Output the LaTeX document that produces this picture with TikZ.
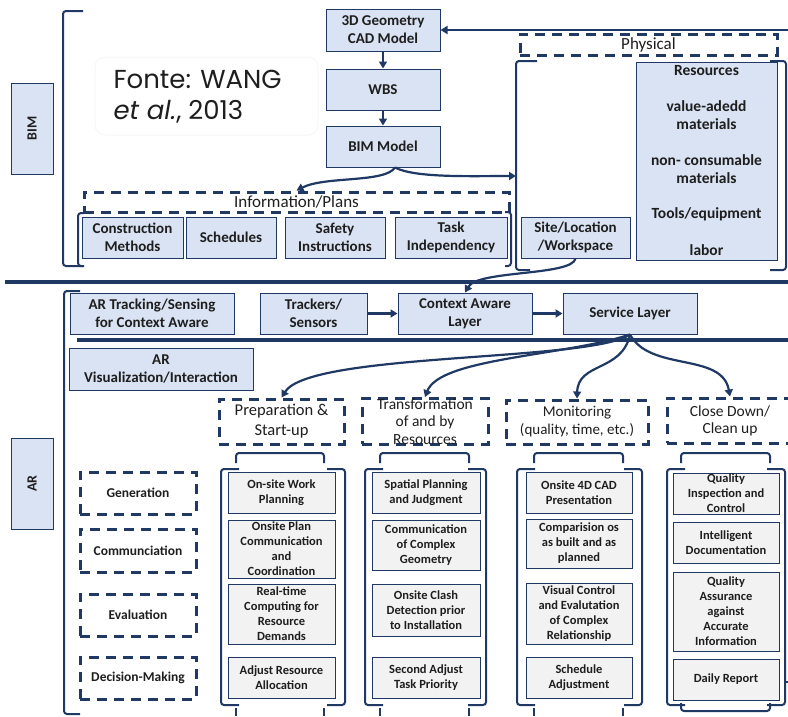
\documentclass[tikz,border=0pt]{standalone}
\usepackage{fontspec}
\setmainfont{Carlito}
\newfontfamily\fontefont{Poppins}
\usetikzlibrary{arrows.meta,calc}
\definecolor{navy}{RGB}{31,56,100}
\definecolor{bluefill}{RGB}{218,227,243}
\definecolor{grayfill}{RGB}{242,242,242}
\definecolor{txt}{RGB}{30,30,30}
\tikzset{
 bluebox/.style={draw=navy, fill=bluefill, line width=1pt, inner sep=0pt, align=center, font=\fontsize{15}{18}\selectfont\bfseries, text=txt},
 graybox/.style={draw=navy, fill=grayfill, line width=1pt, inner sep=0pt, align=center, font=\fontsize{12.5}{15}\selectfont\bfseries, text=txt},
 dbox/.style={draw=navy, line width=3pt, dash pattern=on 10pt off 7pt, inner sep=0pt, align=center, font=\fontsize{16}{20}\selectfont, text=txt},
 catbox/.style={dbox, font=\fontsize{13.5}{15}\selectfont\bfseries},
 bracket/.style={draw=navy, line width=2pt, rounded corners=3pt},
 sep/.style={draw=navy, line width=3.5pt},
 arr/.style={draw=navy, line width=2.2pt, -{Triangle[length=7pt,width=8pt]}},
}
\begin{document}
\begin{tikzpicture}[x=1pt, y=-1pt]
\useasboundingbox (0,0) rectangle (788,716);

% ---------------- BIM part ----------------
\node[bluebox, minimum width=42, minimum height=91] (bim) at (32,128.5) {};
\node[rotate=90, font=\fontsize{14}{15}\selectfont\bfseries, text=txt] (bimtxt) at (bim) {BIM};
\draw[bracket] (83,11) -- (63,11) -- (63,266) -- (83,266);

\node[draw=gray!7, line width=1pt, rounded corners=10pt, minimum width=223, minimum height=78] (fontebox) at (206.5,96) {};
\node[anchor=west, align=left, font=\fontefont\fontsize{26}{31}\selectfont, text=txt] (fonte) at (110,97) {Fonte: WANG\\\textit{et al.}, 2013};

\node[bluebox, minimum width=114, minimum height=42] (cad) at (383,30) {3D Geometry\\CAD Model};
\node[bluebox, minimum width=114, minimum height=41] (wbs) at (383,89.5) {WBS};
\node[bluebox, minimum width=114, minimum height=41] (bimm) at (383,146.5) {BIM Model};

\node[dbox, minimum width=425, minimum height=20, font=\fontsize{17}{20}\selectfont] (info) at (296.5,202) {Information/Plans};
\node[dbox, minimum width=257, minimum height=21, font=\fontsize{17}{20}\selectfont] (phys) at (648.5,44.5) {Physical};

\node[bluebox, minimum width=101, minimum height=41] (cm) at (132.5,237.5) {Construction\\Methods};
\node[bluebox, minimum width=90, minimum height=41] (sch) at (231,237.5) {Schedules};
\node[bluebox, minimum width=100, minimum height=41] (safe) at (335,237.5) {Safety\\Instructions};
\node[bluebox, minimum width=112, minimum height=41] (task) at (451,237.5) {Task\\Independency};
\node[bluebox, minimum width=109, minimum height=41] (site) at (575.5,237.5) {Site/Location\\/Workspace};
\node[bluebox, minimum width=141, minimum height=198, font=\fontsize{15.5}{18}\selectfont\bfseries] (res) at (706.5,161)
  {Resources\\[18pt]value-adedd\\materials\\[18pt]non- consumable\\materials\\[17pt]Tools/equipment\\[19pt]labor};

% brackets of BIM part
\draw[bracket] (84,213) -- (78,213) -- (78,266) -- (84,266);
\draw[bracket] (505,212) -- (511,212) -- (511,266) -- (505,266);
\draw[bracket] (537,61) -- (516,61) -- (516,270) -- (530,270);
\draw[bracket] (770,61) -- (786,61) -- (786,270) -- (770,270);

% arrows of BIM part
\coordinate (fbstart) at (788,30);
\coordinate (physin) at (516,176);
\draw[arr] (fbstart) -- (cad.east);
\draw[arr] (cad.south) -- (wbs.north);
\draw[arr] (wbs.south) -- (bimm.north);
\draw[arr] ($(bimm.south)+(12,0)$) .. controls (385,183) and (325,176) .. (info.north);
\draw[arr] ($(bimm.south)+(12,0)$) .. controls (415,178) and (470,176) .. (physin);

% separator
\coordinate (s1a) at (5,282); \coordinate (s1b) at (788,282);
\draw[sep] (s1a) -- (s1b);

% ---------------- AR part ----------------
\node[bluebox, minimum width=42, minimum height=91] (ar) at (32,483.5) {};
\node[rotate=90, font=\fontsize{14}{15}\selectfont\bfseries, text=txt] (artxt) at (ar) {AR};
\draw[bracket] (80,291) -- (64,291) -- (64,714) -- (80,714);

\node[bluebox, minimum width=164, minimum height=41] (arts) at (152,313.5) {AR Tracking/Sensing\\for Context Aware};
\node[bluebox, minimum width=107, minimum height=41] (trk) at (313.5,313.5) {Trackers/\\Sensors};
\node[bluebox, minimum width=134, minimum height=41] (ctx) at (465,313.5) {Context Aware\\Layer};
\node[bluebox, minimum width=134, minimum height=41] (svc) at (630,313.5) {Service Layer};
\node[bluebox, minimum width=184, minimum height=42] (arvis) at (161,369) {AR\\Visualization/Interaction};

\coordinate (s2a) at (77,340); \coordinate (s2b) at (788,340);
\draw[sep] (s2a) -- (s2b);

\draw[arr] (site.south) .. controls (572,276) and (478,270) .. (ctx.north);
\draw[arr] (trk.east) -- (ctx.west);
\draw[arr] (ctx.east) -- (svc.west);

% phase headers
\node[dbox, minimum width=125, minimum height=45, font=\fontsize{16.5}{20}\selectfont] (prep) at (281.5,421.5) {Preparation \&\\Start-up};
\node[dbox, minimum width=126, minimum height=45, font=\fontsize{15.5}{17.5}\selectfont] (trans) at (425,421.5) {Transformation\\of and by\\Resources};
\node[dbox, minimum width=142, minimum height=44, font=\fontsize{15}{18}\selectfont] (mon) at (577,422) {Monitoring\\(quality, time, etc.)};
\node[dbox, minimum width=126, minimum height=45, font=\fontsize{15.5}{17}\selectfont] (close) at (730,420.5) {Close Down/\\Clean up};

\draw[arr] (svc.south) .. controls (590,362) and (310,352) .. (prep.north);
\draw[arr] (svc.south) .. controls (565,356) and (440,358) .. (trans.north);
\draw[arr] (svc.south) .. controls (622,372) and (578,362) .. (mon.north);
\draw[arr] (svc.south) .. controls (650,372) and (722,352) .. (close.north);

% categories
\node[catbox, minimum width=116, minimum height=42] (gen) at (138,493) {Generation};
\node[catbox, minimum width=116, minimum height=43] (comm) at (138,550.5) {Communciation};
\node[catbox, minimum width=116, minimum height=42] (eval) at (138,615) {Evaluation};
\node[catbox, minimum width=116, minimum height=42] (dec) at (138,678) {Decision-Making};

% column 1
\node[graybox, minimum width=107, minimum height=41] (c1a) at (281.5,492.5) {On-site Work\\Planning};
\node[graybox, minimum width=107, minimum height=58] (c1b) at (281.5,549) {Onsite Plan\\Communication\\and\\Coordination};
\node[graybox, minimum width=107, minimum height=60] (c1c) at (281.5,614) {Real-time\\Computing for\\Resource\\Demands};
\node[graybox, minimum width=107, minimum height=41] (c1d) at (281.5,677.5) {Adjust Resource\\Allocation};
% column 2
\node[graybox, minimum width=108, minimum height=41] (c2a) at (426,492.5) {Spatial Planning\\and Judgment};
\node[graybox, minimum width=108, minimum height=50] (c2b) at (426,545) {Communication\\of Complex\\Geometry};
\node[graybox, minimum width=108, minimum height=52] (c2c) at (426,610) {Onsite Clash\\Detection prior\\to Installation};
\node[graybox, minimum width=108, minimum height=41] (c2d) at (426,677.5) {Second Adjust\\Task Priority};
% column 3
\node[graybox, minimum width=106, minimum height=41] (c3a) at (579,492.5) {Onsite 4D CAD\\Presentation};
\node[graybox, minimum width=106, minimum height=49] (c3b) at (579,543.5) {Comparision os\\as built and as\\planned};
\node[graybox, minimum width=106, minimum height=61] (c3c) at (579,613.5) {Visual Control\\and Evalutation\\of Complex\\Relationship};
\node[graybox, minimum width=106, minimum height=41] (c3d) at (579,677.5) {Schedule\\Adjustment};
% column 4
\node[graybox, minimum width=106, minimum height=41] (c4a) at (726,493.5) {Quality\\Inspection and\\Control};
\node[graybox, minimum width=106, minimum height=41] (c4b) at (726,542.5) {Intelligent\\Documentation};
\node[graybox, minimum width=106, minimum height=79] (c4c) at (726,611.5) {Quality\\Assurance\\against\\Accurate\\Information};
\node[graybox, minimum width=106, minimum height=41] (c4d) at (726,679.5) {Daily Report};

% column brackets
\foreach \L/\R/\a/\b in {221/345/236/324, 365/486/380/469, 517/642/534/623, 667/785/681/770}{
  \draw[bracket] (\a,463) -- (\a,453) -- (\b,453) -- (\b,463);
  \draw[bracket] (\L+18,469) -- (\L,469) -- (\L,705) -- (\L+18,705);
  \draw[bracket] (\R-18,469) -- (\R,469) -- (\R,705) -- (\R-18,705);
}
\foreach \a/\b in {236/324, 380/469, 534/623}{
  \draw[draw=navy, line width=2pt] (\a,716) -- (\a,708);
  \draw[draw=navy, line width=2pt] (\b,716) -- (\b,708);
}
\draw[bracket] (681,703) -- (681,711) -- (770,711) -- (770,703);
\coordinate (drstub) at (788,682);
\draw[draw=navy, line width=2pt] (785,682) -- (drstub);
\end{tikzpicture}
\end{document}
